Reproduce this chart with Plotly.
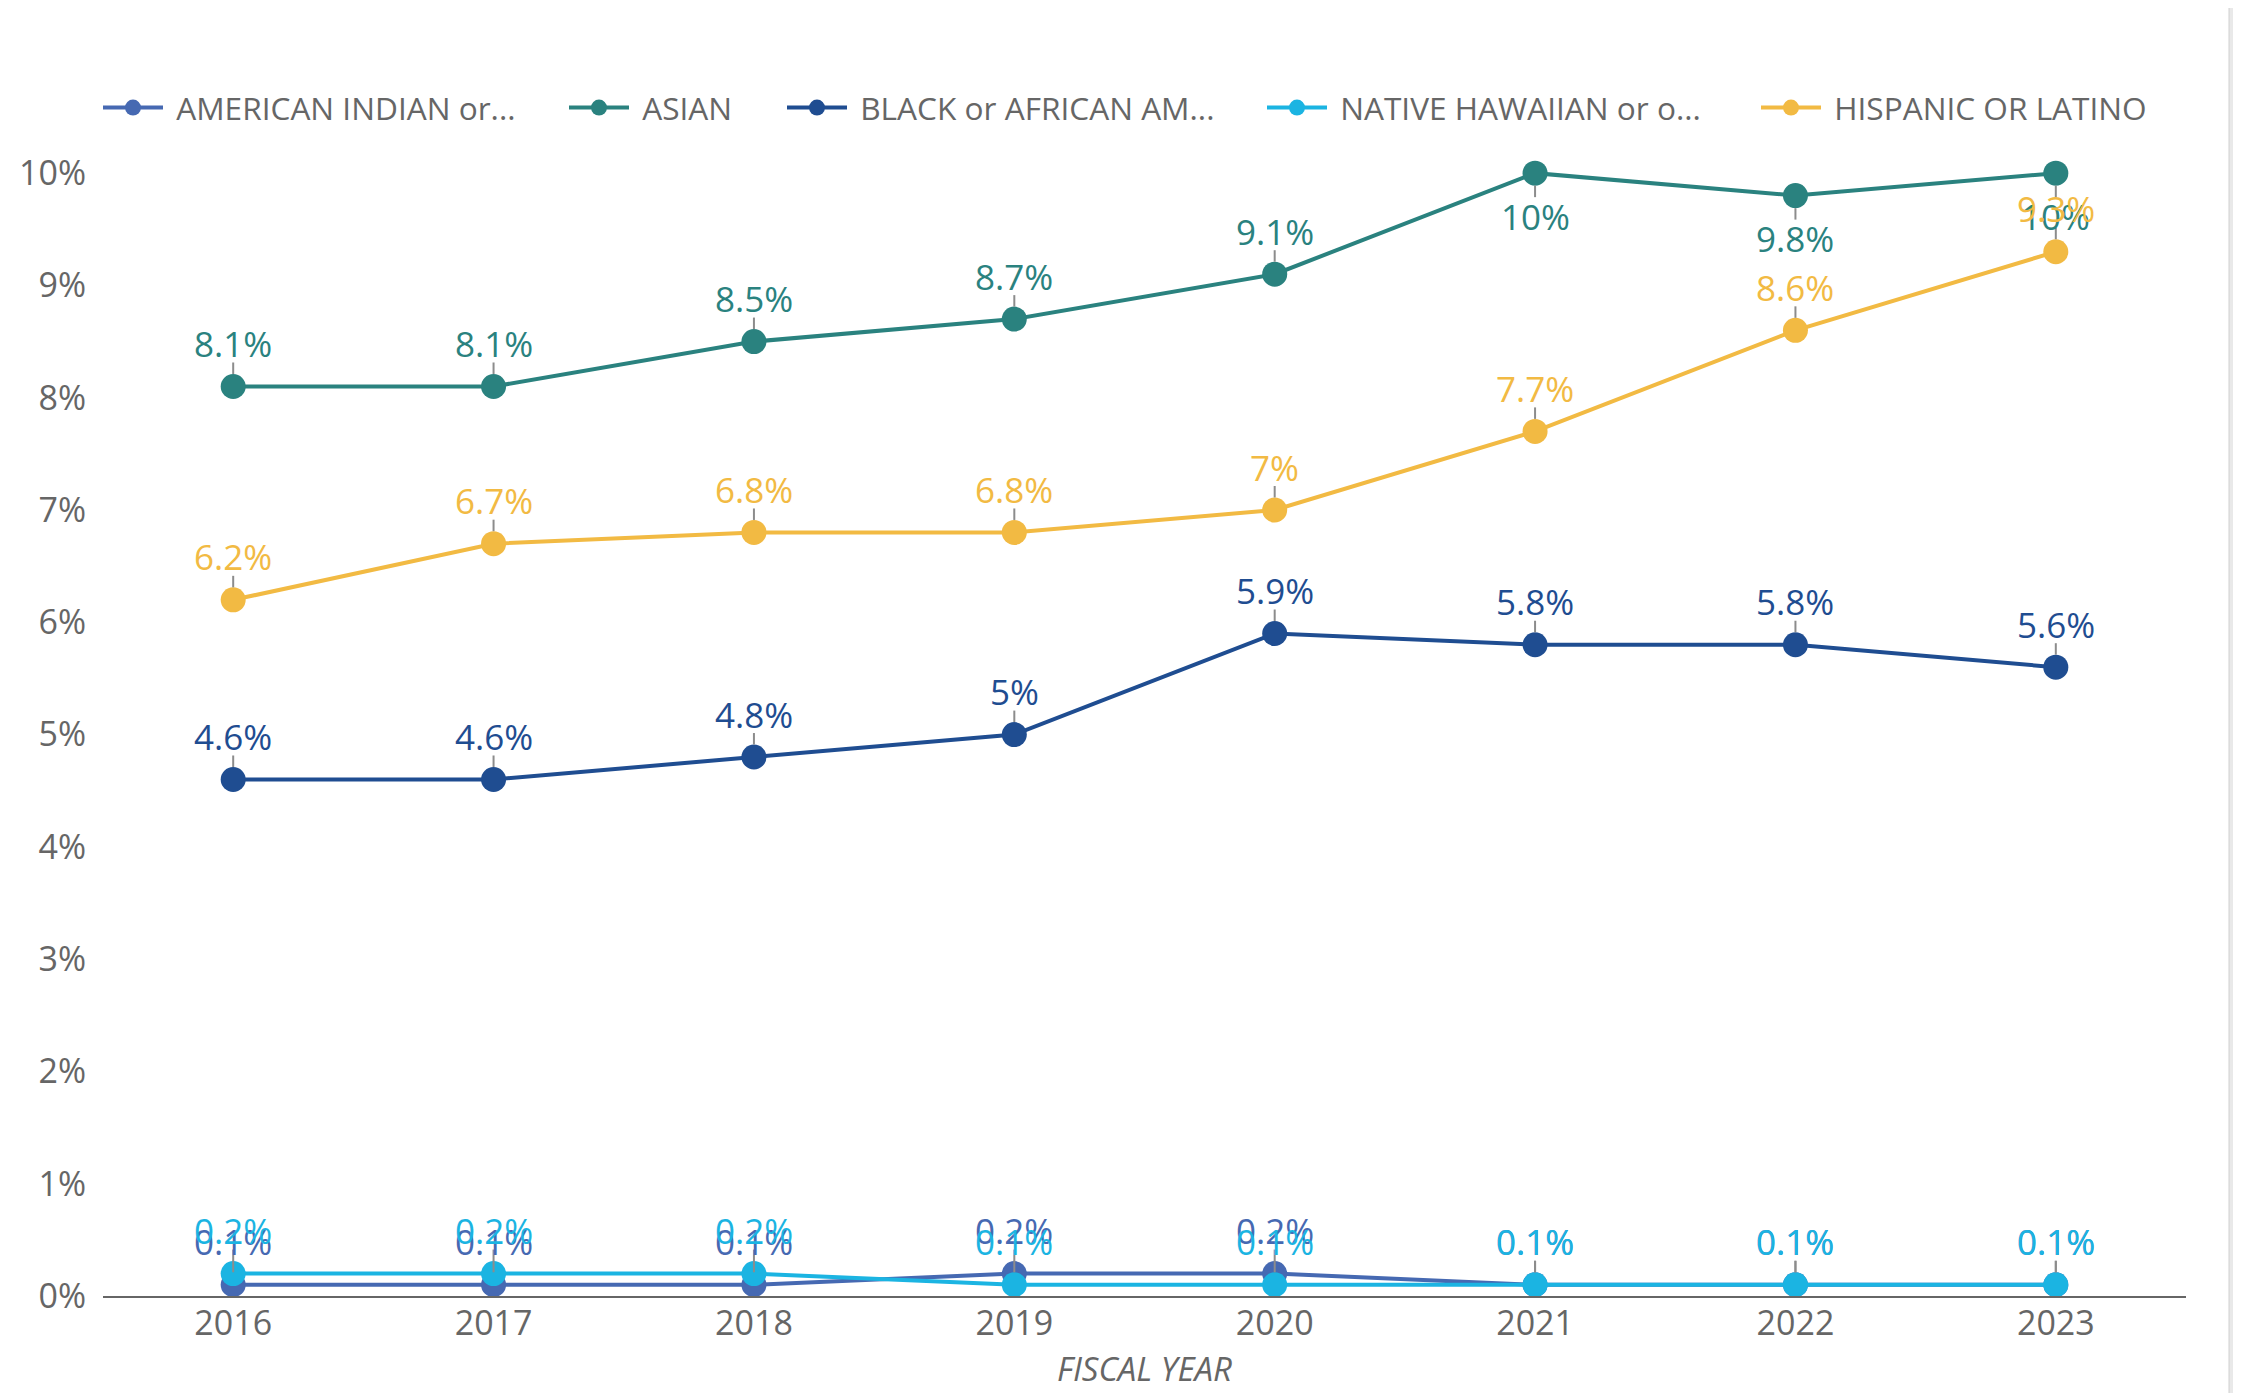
import plotly.graph_objects as go

years = [2016, 2017, 2018, 2019, 2020, 2021, 2022, 2023]
series_names = ["AMERICAN INDIAN or...", "ASIAN", "BLACK or AFRICAN AM...",
                "NATIVE HAWAIIAN or o...", "HISPANIC OR LATINO"]
american_indian = [0.1, 0.1, 0.1, 0.2, 0.2, 0.1, 0.1, 0.1]
asian = [8.1, 8.1, 8.5, 8.7, 9.1, 10.0, 9.8, 10.0]
black = [4.6, 4.6, 4.8, 5.0, 5.9, 5.8, 5.8, 5.6]
native_hawaiian = [0.2, 0.2, 0.2, 0.1, 0.1, 0.1, 0.1, 0.1]
hispanic = [6.2, 6.7, 6.8, 6.8, 7.0, 7.7, 8.6, 9.3]
y_ticks = [0, 1, 2, 3, 4, 5, 6, 7, 8, 9, 10]

series_values = [american_indian, asian, black, native_hawaiian, hispanic]
colors = ["#4669b2", "#2a827f", "#1f4d91", "#1bb4e2", "#f2ba43"]
# label placement: +1 above point, -1 below point
label_side = [
    [1] * 8,
    [1, 1, 1, 1, 1, -1, -1, -1],
    [1] * 8,
    [1] * 8,
    [1] * 8,
]

OFF = 8  # page body margin
W, H = 2241 - OFF, 1393 - OFF
L, R, T, B = 103 - OFF, 55, 117 - OFF, 97
pw, ph = W - L - R, H - T - B

FONT = "Open Sans"
GREY = "#666666"

fig = go.Figure()
shapes = []
annotations = []

# card background
shapes.append(dict(type="rect", xref="paper", yref="paper", layer="below",
                   x0=-(L + 2) / pw, x1=(2229 - OFF - L) / pw,
                   y0=-(B + 5) / ph, y1=(H - B + 2) / ph,
                   fillcolor="white", line=dict(color="#d0d0d0", width=1)))

legend_sym_x = [103, 569, 787, 1267, 1761]
ITEMW = 60

for i, (name, vals, col) in enumerate(zip(series_names, series_values, colors)):
    lg = "legend" if i == 0 else f"legend{i+1}"
    fig.add_trace(go.Scatter(
        x=years, y=vals, name="\u00a0" + name, mode="lines+markers",
        line=dict(color=col, width=4),
        marker=dict(color=col, size=25),
        cliponaxis=False, legend=lg,
    ))
    for j, (yr, v) in enumerate(zip(years, vals)):
        s = label_side[i][j]
        shapes.append(dict(type="line", xref="x", yref="y", ysizemode="pixel",
                           yanchor=v, x0=yr, x1=yr, y0=s * 12.5, y1=s * 24,
                           line=dict(color="#8c8c8c", width=2), layer="above"))
        annotations.append(dict(x=yr, y=v, xref="x", yref="y", showarrow=False,
                                text=f"{v:g}%", yshift=s * 43,
                                font=dict(family=FONT, size=35, color=col)))

layout_legends = {}
for i in range(5):
    key = "legend" if i == 0 else f"legend{i+1}"
    layout_legends[key] = dict(
        orientation="h", x=(legend_sym_x[i] - OFF - 5 - L) / pw, xanchor="left",
        y=(H - B - (108 - OFF)) / ph, yanchor="middle",
        font=dict(family=FONT, size=31.6, color=GREY), itemwidth=ITEMW,
        bgcolor="rgba(0,0,0,0)", borderwidth=0,
    )

fig.update_layout(
    width=W, height=H,
    margin=dict(l=L, r=R, t=T, b=B, autoexpand=False),
    paper_bgcolor="#e9e9e9", plot_bgcolor="rgba(0,0,0,0)",
    showlegend=True,
    shapes=shapes, annotations=annotations,
    xaxis=dict(range=[2015.5, 2023.5], tickvals=years, ticktext=[str(y) for y in years],
               showgrid=False, zeroline=False, showline=True, linecolor=GREY, linewidth=2,
               ticks="", tickfont=dict(family=FONT, size=34, color=GREY), ticklabelstandoff=-4,
               title=dict(text="<i>FISCAL YEAR</i>", font=dict(family=FONT, size=33, color=GREY),
                          standoff=14)),
    yaxis=dict(range=[0, 10.5], tickvals=y_ticks, ticktext=[f"{t}%" for t in y_ticks],
               showgrid=False, zeroline=False, showline=False, ticks="",
               tickfont=dict(family=FONT, size=34, color=GREY), ticklabelstandoff=16),
    **layout_legends,
)

fig.write_html("out.html")
